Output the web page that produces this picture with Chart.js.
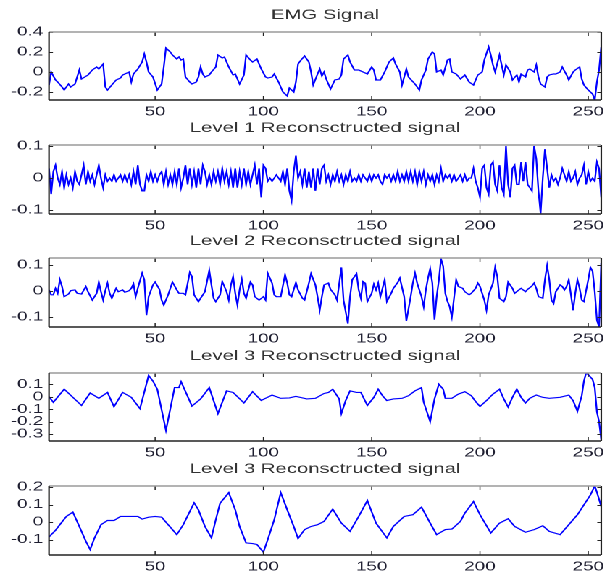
<!DOCTYPE html>
<html>
<head>
<meta charset="utf-8">
<script src="https://cdn.jsdelivr.net/npm/chart.js@4.4.1/dist/chart.umd.min.js"></script>
<style>
  html, body { margin:0; padding:0; background:#fff; }
  body { width:610px; height:577px; position:relative; overflow:hidden; }
  /* the source figure was stretched sideways, so draw narrow and widen */
  #wrap { position:absolute; left:0; top:0; width:421px; height:577px;
          transform:scaleX(1.4489); transform-origin:0 0; }
  canvas { position:absolute; left:0; width:421px; }
</style>
</head>
<body>
<div id="wrap">
<canvas id="c1" width="421" height="120" style="top:2px;height:120px"></canvas>
<canvas id="c2" width="421" height="121" style="top:115px;height:121px"></canvas>
<canvas id="c3" width="421" height="121" style="top:228px;height:121px"></canvas>
<canvas id="c4" width="421" height="120" style="top:343px;height:120px"></canvas>
<canvas id="c5" width="421" height="121" style="top:456px;height:121px"></canvas>
</div>
<script>
// titles
const titles = ['EMG Signal', 'Level 1 Reconsctructed signal', 'Level 2 Reconsctructed signal',
  'Level 3 Reconsctructed signal', 'Level 3 Reconsctructed signal'];

const xTicks = [50, 100, 150, 200, 250];

// EMG signal (sample index, value)
const emgX = [1,2,4,5,7,8,10,11,13,15,16,19,21,23,24,26,27,28,30,32,34,35,38,39,40,42,44,45,46,47,49,51,53,54,55,57,58,60,61,62,63,64,66,67,69,70,71,72,73,75,76,78,79,81,82,84,86,87,89,91,92,94,95,97,99,101,102,104,105,107,109,111,112,114,115,116,117,119,121,122,123,125,126,127,128,129,131,133,135,136,137,139,140,142,144,146,148,150,151,152,154,156,158,160,161,163,164,166,167,170,172,173,175,176,178,179,180,182,183,185,186,187,189,191,193,195,197,199,201,202,204,205,206,207,209,210,211,212,214,215,217,218,219,221,222,223,225,226,227,228,230,231,232,234,235,237,238,240,241,243,244,246,247,248,250,252,253,254,255,256];
const emgY = [-0.13,0.0,-0.08,-0.1,-0.15,-0.18,-0.12,-0.15,-0.12,0.02,-0.07,-0.03,0.02,0.05,0.03,0.08,-0.15,-0.18,-0.13,-0.08,-0.06,-0.03,0.0,-0.1,-0.02,0.03,0.1,0.18,0.1,0.0,-0.05,-0.18,-0.12,0.05,0.24,0.2,0.17,0.13,0.15,0.12,0.13,-0.05,-0.1,-0.12,-0.1,-0.05,0.05,-0.02,-0.05,-0.03,0.0,0.05,0.17,0.14,0.15,0.05,-0.03,-0.02,-0.12,-0.03,0.17,0.12,0.1,0.13,0.03,-0.05,-0.06,-0.05,-0.02,-0.1,-0.2,-0.24,-0.16,-0.2,-0.1,0.08,0.11,0.16,0.1,0.0,-0.13,-0.02,0.03,-0.04,0.0,-0.07,-0.17,-0.08,-0.07,-0.03,0.13,0.17,0.1,0.02,0.02,0.0,-0.02,0.05,0.02,-0.08,-0.08,0.0,0.1,0.14,0.08,0.0,-0.13,0.03,-0.05,-0.12,-0.18,-0.08,0.02,0.13,0.2,0.18,0.0,0.02,-0.03,0.12,0.13,0.0,-0.02,-0.07,-0.03,-0.1,-0.13,-0.03,0.0,0.12,0.25,0.17,0.07,0.0,0.17,0.07,-0.03,0.07,0.0,-0.08,-0.03,-0.1,-0.02,-0.05,0.02,0.03,0.0,0.07,-0.05,-0.12,-0.15,-0.05,-0.03,-0.02,-0.02,0.0,0.05,-0.03,-0.08,0.0,0.02,0.05,-0.07,-0.13,-0.18,-0.22,-0.28,-0.1,0.02,0.25];

// Level 1 reconstruction
const lev1X = [1,2,3,4,5,6,7,8,9,10,11,12,13,14,15,16,17,18,19,20,21,22,23,24,25,26,27,28,29,30,31,32,33,34,35,36,37,38,39,40,41,42,43,44,45,46,47,48,49,50,51,52,53,54,55,56,57,58,59,60,61,62,63,64,65,66,67,68,69,70,71,72,73,74,75,76,77,78,79,80,81,82,83,84,85,86,87,88,89,90,91,92,93,94,95,96,97,98,99,100,101,102,103,104,105,106,107,108,109,110,111,112,113,114,115,116,117,118,119,120,121,122,123,124,125,126,127,128,129,130,131,132,133,134,135,136,137,138,139,140,141,142,143,144,145,146,147,148,149,150,151,152,153,154,155,156,157,158,159,160,161,162,163,164,165,166,167,168,169,170,171,172,173,174,175,176,177,178,179,180,181,182,183,184,185,186,187,188,189,190,191,192,193,194,195,196,197,198,199,200,201,202,203,204,205,206,207,208,209,210,211,212,213,214,215,216,217,218,219,220,221,222,223,224,225,226,227,228,229,230,231,232,233,234,235,236,237,238,239,240,241,242,243,244,245,246,247,248,249,250,251,252,253,254,255,256];
const lev1Y = [0.03,-0.05,0.02,0.04,0.0,-0.02,0.02,-0.03,0.01,-0.02,0.0,-0.03,0.02,-0.01,-0.02,0.01,0.04,-0.02,0.02,-0.01,0.01,-0.02,0.01,0.04,0.0,-0.03,0.01,-0.01,0.0,-0.01,0.01,-0.01,0.0,0.01,-0.01,0.01,-0.01,0.01,-0.02,0.02,-0.02,0.04,-0.02,-0.04,-0.04,0.01,-0.01,0.02,-0.01,0.01,-0.01,0.01,0.02,-0.02,0.02,-0.02,0.01,-0.02,0.02,-0.02,0.03,-0.03,0.0,0.04,-0.02,0.03,-0.02,0.02,-0.03,0.03,-0.02,0.04,0.02,-0.02,0.01,-0.02,0.02,-0.01,0.02,-0.02,0.03,-0.01,0.02,-0.02,0.02,-0.03,0.03,-0.03,0.02,-0.02,0.03,-0.02,0.02,-0.02,0.01,0.04,-0.02,0.03,-0.06,0.04,0.03,-0.01,0.0,-0.01,0.0,0.01,0.0,-0.01,0.02,-0.02,0.03,-0.04,-0.07,0.02,0.07,0.0,0.02,-0.02,0.03,-0.03,0.02,-0.03,0.03,-0.04,0.03,-0.02,0.03,0.04,-0.01,0.01,-0.02,0.01,-0.01,0.02,-0.01,0.01,-0.02,0.01,-0.01,0.02,-0.01,0.0,-0.01,0.01,-0.01,0.01,0.0,-0.01,0.01,-0.01,0.01,0.0,0.01,-0.01,-0.02,0.01,0.0,0.01,-0.01,0.01,-0.01,0.02,-0.01,0.01,-0.01,0.02,-0.01,0.02,-0.01,0.02,-0.02,0.02,-0.01,0.02,-0.02,0.01,-0.01,0.01,-0.02,0.01,-0.01,0.03,-0.01,0.01,0.0,0.01,-0.01,0.01,-0.01,0.0,0.01,-0.01,0.01,-0.01,0.0,0.0,0.03,-0.01,-0.03,-0.06,0.03,0.04,-0.03,-0.05,0.04,0.05,-0.02,-0.04,0.04,-0.03,-0.05,0.1,-0.02,-0.06,0.03,0.04,-0.02,-0.02,0.05,-0.01,0.05,-0.02,-0.03,-0.04,0.1,0.06,-0.04,-0.11,0.0,0.09,0.03,-0.03,0.01,-0.01,0.0,-0.02,0.0,0.03,0.01,-0.01,0.02,-0.01,0.0,0.02,-0.02,0.0,0.01,0.04,-0.02,0.02,-0.01,0.0,-0.01,0.05,0.03,-0.06];

// Level 2 reconstruction
const lev2X = [1,2,3,4,5,6,7,8,10,11,13,14,16,18,19,21,23,24,25,26,27,28,29,30,32,33,35,36,38,39,40,41,42,44,45,46,47,49,50,52,53,54,56,58,60,61,63,64,66,67,68,70,71,73,75,76,77,78,80,81,83,84,85,86,87,88,89,90,91,92,94,95,96,98,100,101,102,104,105,106,108,110,111,112,113,115,116,118,119,121,122,124,125,126,127,128,130,131,133,134,136,137,139,140,141,143,144,145,146,147,148,150,151,152,153,154,155,156,157,159,160,162,163,165,166,168,169,170,171,173,174,175,176,177,178,179,180,181,182,183,184,185,186,187,188,189,190,192,193,195,196,198,199,200,202,203,204,206,207,208,209,211,212,213,215,216,218,219,221,222,224,225,226,227,229,230,231,232,233,234,235,237,238,239,240,241,242,243,244,245,246,247,248,250,251,252,253,254,255,256];
const lev2Y = [0.004,-0.015,-0.015,0.01,-0.009,0.043,0.017,-0.022,-0.012,0.001,0.004,-0.009,-0.012,0.017,-0.003,-0.035,-0.009,0.034,-0.003,-0.035,0.001,0.03,-0.009,-0.028,0.01,-0.003,0.004,-0.005,0.001,0.01,0.027,-0.022,0.01,0.068,0.043,-0.093,-0.022,0.023,0.034,0.006,-0.035,-0.054,-0.015,0.034,0.004,-0.009,-0.009,-0.015,0.071,0.055,-0.015,-0.041,-0.028,-0.003,0.079,0.023,-0.028,-0.041,-0.015,0.036,-0.003,-0.035,0.023,0.055,-0.009,-0.054,0.004,0.045,-0.009,-0.028,0.034,0.023,-0.022,-0.035,-0.022,-0.035,0.068,0.03,-0.015,-0.022,-0.022,0.062,0.03,-0.015,-0.022,0.032,0.004,-0.028,-0.035,0.03,0.066,0.023,-0.022,-0.074,-0.022,0.023,0.03,0.006,-0.015,-0.035,0.09,-0.035,-0.125,-0.022,0.043,0.066,0.004,-0.028,0.036,0.03,-0.041,-0.009,0.026,0.004,0.03,-0.022,0.01,0.043,-0.041,-0.009,0.01,0.032,0.049,-0.022,-0.115,-0.022,0.03,0.068,0.03,-0.022,-0.061,0.004,0.049,0.085,0.03,-0.11,-0.022,0.04,0.123,0.094,-0.01,-0.04,-0.06,-0.1,-0.028,0.043,0.017,0.01,-0.003,-0.015,-0.009,0.01,0.03,0.017,-0.035,-0.074,-0.015,0.03,0.09,0.055,-0.028,-0.041,-0.022,0.034,0.01,-0.009,0.004,0.01,-0.003,0.006,0.019,0.03,0.01,-0.022,-0.028,0.043,0.097,0.043,-0.035,-0.048,-0.003,0.023,0.017,0.004,0.017,0.043,-0.015,-0.074,-0.009,0.043,0.01,-0.035,-0.041,0.043,0.09,0.075,-0.003,-0.112,-0.138,0.107];

// Level 3 reconstruction (first)
const lev3aX = [1,3,8,16,20,24,28,31,35,39,43,47,49,51,55,59,61,62,67,71,75,79,83,86,91,95,99,104,108,112,115,120,124,128,130,132,135,136,138,140,143,145,148,151,153,155,157,160,164,167,170,173,174,177,179,181,183,184,187,190,193,196,198,200,203,206,209,211,213,215,217,219,221,223,226,229,232,237,241,243,245,247,248,249,250,252,253,254,255,256];
const lev3aY = [0.0,-0.045,0.06,-0.07,0.03,-0.013,0.034,-0.08,0.034,-0.005,-0.096,0.17,0.125,0.06,-0.27,0.073,0.073,0.12,-0.075,-0.018,0.073,-0.135,0.047,0.034,-0.05,0.04,-0.03,0.013,-0.013,-0.01,0.003,-0.018,-0.013,0.026,0.034,0.06,-0.018,-0.135,-0.03,0.047,0.034,0.034,-0.07,-0.005,0.06,0.008,-0.031,-0.018,-0.013,0.008,0.047,0.073,-0.044,-0.2,-0.018,0.1,0.06,-0.013,-0.013,0.021,0.04,0.008,-0.039,-0.078,-0.031,0.021,0.06,-0.018,-0.083,-0.005,0.06,-0.005,-0.05,-0.013,0.013,-0.005,-0.013,-0.005,0.013,-0.031,-0.117,0.008,0.125,0.19,0.177,0.138,0.073,-0.122,-0.2,-0.345];

// Level 3 reconstruction (second)
const lev3bX = [1,4,6,9,12,15,18,20,22,25,28,31,34,38,42,44,47,50,53,56,58,60,63,66,68,70,73,76,78,80,84,87,89,92,95,97,100,102,105,108,111,114,116,119,122,125,128,132,136,140,144,148,152,157,160,165,169,173,177,180,184,187,191,193,197,200,205,209,213,216,221,225,229,232,237,241,245,248,251,253,254,256];
const lev3bY = [-0.085,-0.047,-0.015,0.032,0.057,-0.025,-0.109,-0.157,-0.091,-0.015,0.009,0.009,0.032,0.032,0.032,0.017,0.028,0.032,0.028,-0.015,-0.043,-0.072,-0.015,0.06,0.11,0.07,-0.025,-0.09,0.013,0.108,0.168,0.07,-0.025,-0.119,-0.123,-0.128,-0.172,-0.1,0.013,0.168,0.07,-0.025,-0.094,-0.043,-0.025,-0.015,0.004,0.074,-0.006,-0.053,0.032,0.123,-0.006,-0.09,-0.025,0.032,0.042,0.085,-0.006,-0.072,-0.043,-0.04,0.004,0.051,0.117,0.042,-0.062,-0.006,0.019,-0.025,-0.058,-0.043,-0.021,-0.053,-0.072,-0.015,0.042,0.098,0.155,0.206,0.17,0.089];

const yTicks1 = [-0.2, 0, 0.2, 0.4];
const yTicks2 = [-0.1, 0, 0.1];
const yTicks3 = [-0.1, 0, 0.1];
const yTicks4 = [-0.3, -0.2, -0.1, 0, 0.1];
const yTicks5 = [-0.1, 0, 0.1, 0.2];

const panels = [
  { id:'c1', xs:emgX,   ys:emgY,   min:-0.28,  max:0.4,   ticks:yTicks1 },
  { id:'c2', xs:lev1X,  ys:lev1Y,  min:-0.112, max:0.103, ticks:yTicks2 },
  { id:'c3', xs:lev2X,  ys:lev2Y,  min:-0.138, max:0.126, ticks:yTicks3 },
  { id:'c4', xs:lev3aX, ys:lev3aY, min:-0.355, max:0.19,  ticks:yTicks4 },
  { id:'c5', xs:lev3bX, ys:lev3bY, min:-0.188, max:0.206, ticks:yTicks5 }
];

const SX = 1.4489;   // sideways stretch of the page
const fam = "'Liberation Sans', Arial, Helvetica, sans-serif";
const tickFont = { family:fam, size:13 };

// matlab style box with inward ticks
const boxPlugin = {
  id:'box',
  afterDraw(chart){
    const { ctx, chartArea:a, scales:{ x, y } } = chart;
    ctx.save();
    ctx.strokeStyle = '#222';
    function ln(x1,y1,x2,y2){ ctx.beginPath(); ctx.moveTo(x1,y1); ctx.lineTo(x2,y2); ctx.stroke(); }
    ctx.lineWidth = 0.75;
    x.ticks.forEach(t => {
      const p = x.getPixelForValue(t.value);
      ln(p, a.bottom, p, a.bottom-4);
      ln(p, a.top, p, a.top+4);
    });
    ctx.lineWidth = 1;
    y.ticks.forEach(t => {
      const p = Math.round(y.getPixelForValue(t.value)) + 0.5;
      ln(a.left, p, a.left+4/SX, p);
      ln(a.right, p, a.right-4/SX, p);
    });
    ctx.lineWidth = 1.5;
    ctx.strokeStyle = '#999';
    ln(a.left, a.top, a.right, a.top);
    ctx.strokeStyle = '#222';
    ln(a.left, a.bottom, a.right, a.bottom);
    ctx.lineWidth = 1.1;
    ln(a.left, a.top, a.left, a.bottom);
    ln(a.right, a.top, a.right, a.bottom);
    ctx.restore();
  }
};

panels.forEach((p, i) => {
  const pts = p.xs.map((xv, k) => ({ x: xv, y: p.ys[k] }));
  new Chart(document.getElementById(p.id), {
    type:'line',
    data:{ datasets:[{ data: pts, borderColor:'#0000ff', borderWidth:1.15, pointRadius:0, tension:0, fill:false }] },
    options:{
      responsive:false,
      devicePixelRatio:2,
      animation:false,
      events:[],
      layout:{ padding:{ left:0, right:2.75, top:0, bottom:0 } },
      plugins:{
        legend:{ display:false },
        tooltip:{ enabled:false },
        title:{
          display:true, text: titles[i], fullSize:false,
          color:'#333', font:{ family:fam, size:14, weight:'normal', lineHeight:1 },
          padding:{ top:6, bottom:10 }
        }
      },
      scales:{
        x:{
          type:'linear', min:1, max:256,
          grid:{ display:false, drawTicks:false }, border:{ display:false },
          afterBuildTicks: s => { s.ticks = xTicks.map(v => ({ value:v })); },
          afterFit: s => { s.height = 22; },
          ticks:{ color:'#1e1e30', font:tickFont, padding:4, maxRotation:0, autoSkip:false }
        },
        y:{
          min:p.min, max:p.max,
          grid:{ display:false, drawTicks:false }, border:{ display:false },
          afterBuildTicks: s => { s.ticks = p.ticks.map(v => ({ value:v })); },
          afterFit: s => { s.width = 49 / SX; },
          ticks:{ color:'#1e1e30', font:tickFont, padding:4, autoSkip:false,
            callback: v => String(Math.round(v*10)/10) }
        }
      }
    },
    plugins:[boxPlugin]
  });
});
</script>
</body>
</html>
